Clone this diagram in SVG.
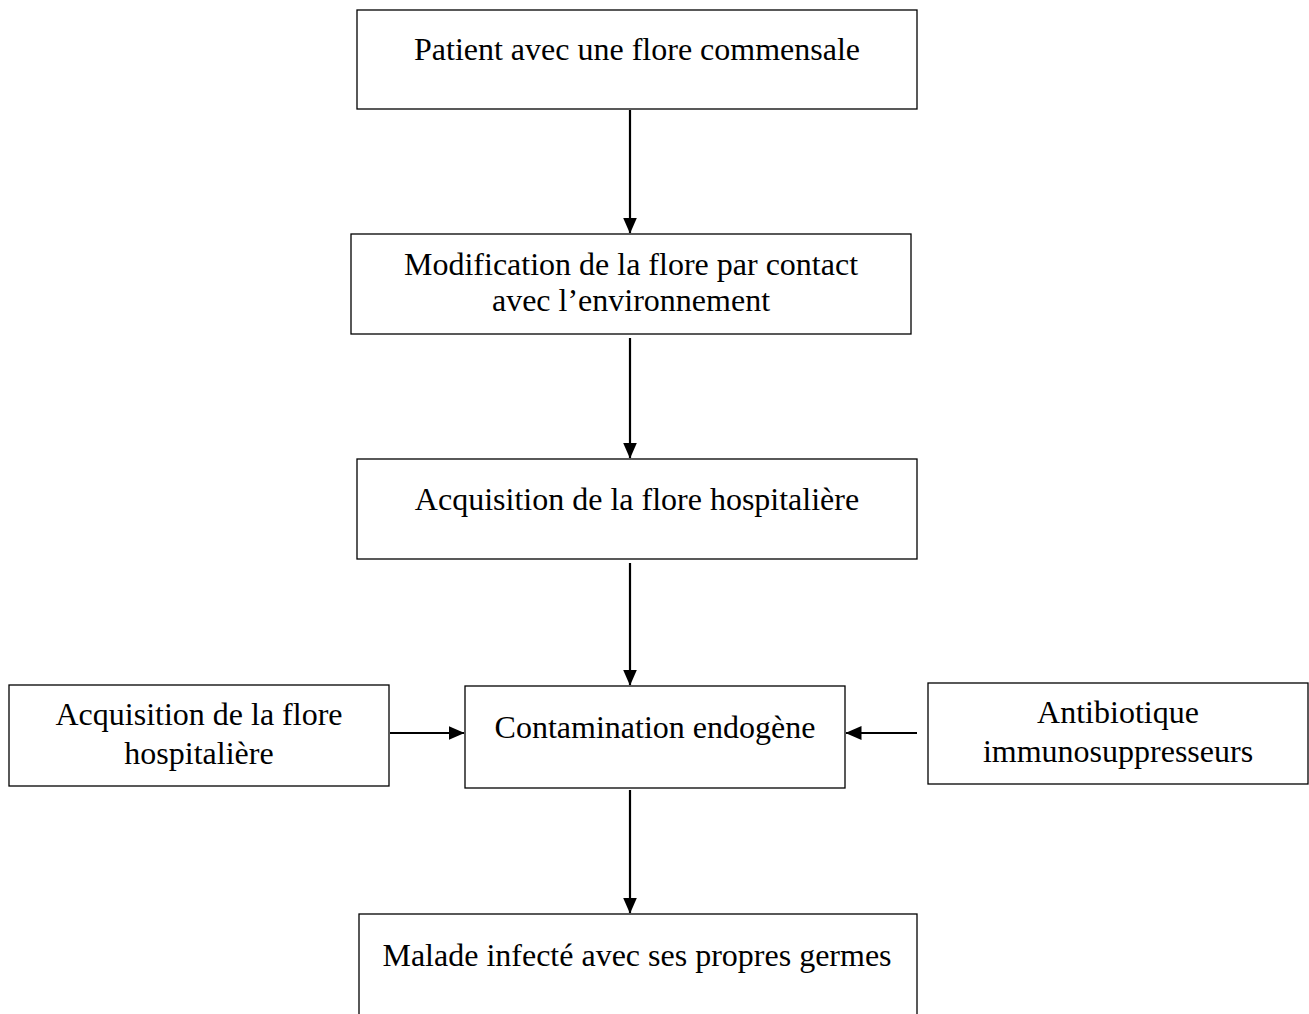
<svg xmlns="http://www.w3.org/2000/svg" width="1309" height="1014" viewBox="0 0 1309 1014">
<style>
.box{fill:#fff;stroke:#000;stroke-width:1.3}
.t{font-family:"Liberation Serif","Times New Roman",serif;font-size:32px;fill:#000;text-anchor:middle}
.c{stroke:#000;stroke-width:2.2;fill:none;marker-end:url(#ah)}
</style>
<defs>
<marker id="ah" markerWidth="16" markerHeight="14" refX="15.5" refY="7" orient="auto" markerUnits="userSpaceOnUse" viewBox="0 0 16 14">
<path d="M0,0 L16,7 L0,14 z" fill="#000"/>
</marker>
</defs>
<rect width="1309" height="1014" fill="#fff"/>
<g id="n1"><rect class="box" x="357" y="10" width="560" height="99"/><text class="t" x="637" y="60">Patient avec une flore commensale</text></g>
<g id="n2"><rect class="box" x="351" y="234" width="560" height="100"/><text class="t" x="631" y="275">Modification de la flore par contact</text><text class="t" x="631" y="311">avec l’environnement</text></g>
<g id="n3"><rect class="box" x="357" y="459" width="560" height="100"/><text class="t" x="637" y="510">Acquisition de la flore hospitalière</text></g>
<g id="n4"><rect class="box" x="465" y="686" width="380" height="102"/><text class="t" x="655" y="738">Contamination endogène</text></g>
<g id="n5"><rect class="box" x="9" y="685" width="380" height="101"/><text class="t" x="199" y="725">Acquisition de la flore</text><text class="t" x="199" y="764">hospitalière</text></g>
<g id="n6"><rect class="box" x="928" y="683" width="380" height="101"/><text class="t" x="1118" y="723">Antibiotique</text><text class="t" x="1118" y="762">immunosuppresseurs</text></g>
<g id="n7"><rect class="box" x="359" y="914" width="558" height="110"/><text class="t" x="637" y="966">Malade infecté avec ses propres germes</text></g>
<g id="connectors">
<path class="c" d="M630,110 V233"/>
<path class="c" d="M630,338 V458"/>
<path class="c" d="M630,563 V685"/>
<path class="c" d="M390,733 H464"/>
<path class="c" d="M917,733 H846"/>
<path class="c" d="M630,790 V913"/>
</g>
</svg>
